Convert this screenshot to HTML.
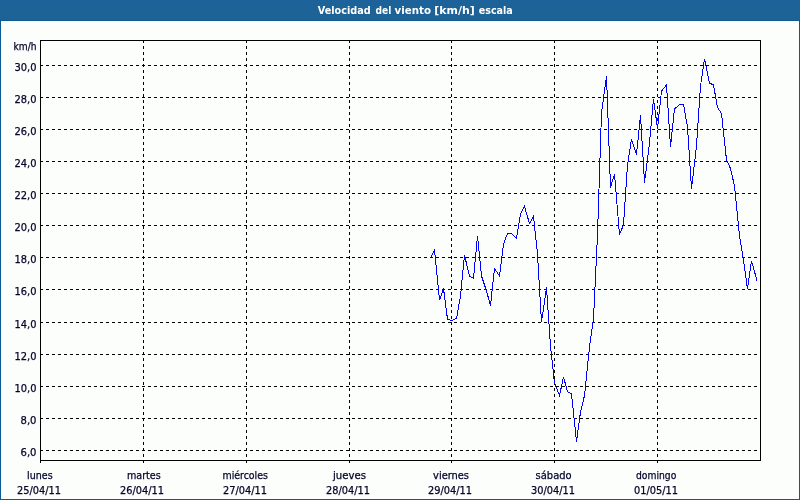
<!DOCTYPE html>
<html lang="es">
<head>
<meta charset="utf-8">
<title>Velocidad del viento [km/h] escala</title>
<style>
html,body{margin:0;padding:0;background:#fcfefc;overflow:hidden;}
body{width:800px;height:500px;position:relative;font-family:"DejaVu Sans Condensed","DejaVu Sans","Liberation Sans",sans-serif;}
svg{position:absolute;left:0;top:0;display:block;}
text{font-family:"DejaVu Sans Condensed","DejaVu Sans","Liberation Sans",sans-serif;font-size:11px;fill:#05052a;stroke:#05052a;stroke-width:0.25px;}
.t{font-weight:bold;fill:#fff;stroke:none;}
.g{stroke:#000;stroke-width:1;stroke-dasharray:3 3;shape-rendering:crispEdges;}
.a{stroke:#000;stroke-width:1;shape-rendering:crispEdges;fill:none;}
.d{stroke:#0000ff;stroke-width:1;fill:none;stroke-linejoin:miter;shape-rendering:crispEdges;}
</style>
</head>
<body>
<svg width="800" height="500" viewBox="0 0 800 500">
<rect x="0" y="0" width="800" height="500" fill="#fcfefc"/>
<rect x="0" y="0" width="800" height="20" fill="#1d6297"/>
<defs><pattern id="dz" x="4" y="0" width="8" height="20" patternUnits="userSpaceOnUse"><rect x="4" y="0" width="1" height="1" fill="#1f64a8"/><rect x="0" y="1" width="1" height="1" fill="#1f64a8"/><rect x="2" y="2" width="1" height="1" fill="#1f64a8"/><rect x="5" y="2" width="1" height="1" fill="#1f64a8"/><rect x="7" y="4" width="1" height="1" fill="#1f64a8"/><rect x="1" y="5" width="1" height="1" fill="#1f64a8"/><rect x="4" y="5" width="1" height="1" fill="#1f64a8"/><rect x="7" y="7" width="1" height="1" fill="#1f64a8"/><rect x="3" y="8" width="1" height="1" fill="#1f64a8"/><rect x="1" y="9" width="1" height="1" fill="#1f64a8"/><rect x="5" y="9" width="1" height="1" fill="#1f64a8"/><rect x="0" y="11" width="1" height="1" fill="#1f64a8"/><rect x="4" y="11" width="1" height="1" fill="#1f64a8"/><rect x="2" y="13" width="1" height="1" fill="#1f64a8"/><rect x="6" y="13" width="1" height="1" fill="#1f64a8"/><rect x="1" y="15" width="1" height="1" fill="#1f64a8"/><rect x="5" y="15" width="1" height="1" fill="#1f64a8"/><rect x="0" y="17" width="1" height="1" fill="#1f64a8"/><rect x="4" y="17" width="1" height="1" fill="#1f64a8"/><rect x="2" y="19" width="1" height="1" fill="#1f64a8"/><rect x="6" y="19" width="1" height="1" fill="#1f64a8"/></pattern></defs>
<rect x="0" y="0" width="800" height="20" fill="url(#dz)" shape-rendering="crispEdges"/>
<rect x="0" y="20" width="800" height="1" fill="#0c5a94"/>
<rect x="0" y="20" width="1" height="480" fill="#0c5a94"/>
<rect x="799" y="20" width="1" height="480" fill="#0c5a94"/>
<rect x="0" y="499" width="800" height="1" fill="#0c5a94"/>
<text class="t" y="14"><tspan x="317.8" textLength="53.0" lengthAdjust="spacingAndGlyphs">Velocidad</tspan> <tspan x="375.5" textLength="15.8" lengthAdjust="spacingAndGlyphs">del</tspan> <tspan x="394.5" textLength="36.5" lengthAdjust="spacingAndGlyphs">viento</tspan> <tspan x="434.3" textLength="40.5" lengthAdjust="spacingAndGlyphs">[km/h]</tspan> <tspan x="478.7" textLength="34.1" lengthAdjust="spacingAndGlyphs">escala</tspan></text>

<line class="g" x1="40" y1="65.5" x2="760" y2="65.5"/>
<line class="g" x1="40" y1="97.5" x2="760" y2="97.5"/>
<line class="g" x1="40" y1="129.5" x2="760" y2="129.5"/>
<line class="g" x1="40" y1="161.5" x2="760" y2="161.5"/>
<line class="g" x1="40" y1="193.5" x2="760" y2="193.5"/>
<line class="g" x1="40" y1="225.5" x2="760" y2="225.5"/>
<line class="g" x1="40" y1="257.5" x2="760" y2="257.5"/>
<line class="g" x1="40" y1="289.5" x2="760" y2="289.5"/>
<line class="g" x1="40" y1="322.5" x2="760" y2="322.5"/>
<line class="g" x1="40" y1="354.5" x2="760" y2="354.5"/>
<line class="g" x1="40" y1="386.5" x2="760" y2="386.5"/>
<line class="g" x1="40" y1="418.5" x2="760" y2="418.5"/>
<line class="g" x1="40" y1="450.5" x2="760" y2="450.5"/>
<line class="g" x1="143.5" y1="40" x2="143.5" y2="463"/>
<line class="g" x1="246.5" y1="40" x2="246.5" y2="463"/>
<line class="g" x1="349.5" y1="40" x2="349.5" y2="463"/>
<line class="g" x1="451.5" y1="40" x2="451.5" y2="463"/>
<line class="g" x1="554.5" y1="40" x2="554.5" y2="463"/>
<line class="g" x1="657.5" y1="40" x2="657.5" y2="463"/>
<line class="a" x1="40.5" y1="40" x2="40.5" y2="463"/>
<line class="a" x1="760.5" y1="40" x2="760.5" y2="461"/>
<line class="a" x1="40" y1="40.5" x2="761" y2="40.5"/>
<line class="a" x1="40" y1="460.5" x2="761" y2="460.5"/>
<polyline class="d" points="431.0,257 434.5,250 439.5,300 443.5,288.5 447.5,319.2 451.5,320.5 456.5,318.5 460.5,296 464.5,255 469.5,276.5 473.5,278.2 477.5,236 481.5,276 486.5,291 490.5,305.5 494.5,268.5 499.5,276 503.5,244 507.5,233.5 511.5,233.3 516.5,238.5 520.5,214 524.5,206.5 529.5,223.5 533.5,216.5 537.5,254 541.5,322 546.5,287.5 550.5,346 554.5,383 559.5,395.5 563.5,377 567.5,391.5 571.5,394 576.5,441.5 580.5,412 584.5,395.5 589.5,347 593.5,319 597.5,235 601.5,113 606.5,76 610.5,187.5 614.5,174 619.5,234.5 623.5,225 627.5,165 631.5,139 636.5,154.5 640.5,115 644.5,182.5 649.5,143 653.5,99 657.5,128.5 661.5,91 666.5,85 670.5,146.5 674.5,109 679.5,104.5 683.5,104.5 687.5,127 691.5,188.5 696.5,146 700.5,86 704.5,59 709.5,83 713.5,85 717.5,107.5 721.5,113.5 726.5,160 730.5,168.5 734.5,186 739.5,236 743.5,260 747.5,289 751.5,261 757.0,280.5"/>
<text x="13.5" y="50" textLength="23" lengthAdjust="spacingAndGlyphs">km/h</text>
<text x="14.5" y="71" textLength="22" lengthAdjust="spacingAndGlyphs">30,0</text>
<text x="14.5" y="103" textLength="22" lengthAdjust="spacingAndGlyphs">28,0</text>
<text x="14.5" y="135" textLength="22" lengthAdjust="spacingAndGlyphs">26,0</text>
<text x="14.5" y="167" textLength="22" lengthAdjust="spacingAndGlyphs">24,0</text>
<text x="14.5" y="199" textLength="22" lengthAdjust="spacingAndGlyphs">22,0</text>
<text x="14.5" y="231" textLength="22" lengthAdjust="spacingAndGlyphs">20,0</text>
<text x="14.5" y="263" textLength="22" lengthAdjust="spacingAndGlyphs">18,0</text>
<text x="14.5" y="295" textLength="22" lengthAdjust="spacingAndGlyphs">16,0</text>
<text x="14.5" y="328" textLength="22" lengthAdjust="spacingAndGlyphs">14,0</text>
<text x="14.5" y="360" textLength="22" lengthAdjust="spacingAndGlyphs">12,0</text>
<text x="14.5" y="392" textLength="22" lengthAdjust="spacingAndGlyphs">10,0</text>
<text x="20.5" y="424" textLength="16" lengthAdjust="spacingAndGlyphs">8,0</text>
<text x="20.5" y="456" textLength="16" lengthAdjust="spacingAndGlyphs">6,0</text>
<text x="27.1" y="479" textLength="25.5" lengthAdjust="spacingAndGlyphs">lunes</text>
<text x="17" y="494" textLength="44" lengthAdjust="spacingAndGlyphs">25/04/11</text>
<text x="126.9" y="479" textLength="33.9" lengthAdjust="spacingAndGlyphs">martes</text>
<text x="120" y="494" textLength="44" lengthAdjust="spacingAndGlyphs">26/04/11</text>
<text x="222.5" y="479" textLength="45.4" lengthAdjust="spacingAndGlyphs">miércoles</text>
<text x="223" y="494" textLength="44" lengthAdjust="spacingAndGlyphs">27/04/11</text>
<text x="333.0" y="479" textLength="33.0" lengthAdjust="spacingAndGlyphs">jueves</text>
<text x="326" y="494" textLength="44" lengthAdjust="spacingAndGlyphs">28/04/11</text>
<text x="433.1" y="479" textLength="35.8" lengthAdjust="spacingAndGlyphs">viernes</text>
<text x="428" y="494" textLength="44" lengthAdjust="spacingAndGlyphs">29/04/11</text>
<text x="535.6" y="479" textLength="36.0" lengthAdjust="spacingAndGlyphs">sábado</text>
<text x="531" y="494" textLength="44" lengthAdjust="spacingAndGlyphs">30/04/11</text>
<text x="636.0" y="479" textLength="40.3" lengthAdjust="spacingAndGlyphs">domingo</text>
<text x="634" y="494" textLength="44" lengthAdjust="spacingAndGlyphs">01/05/11</text>
</svg>
</body>
</html>
